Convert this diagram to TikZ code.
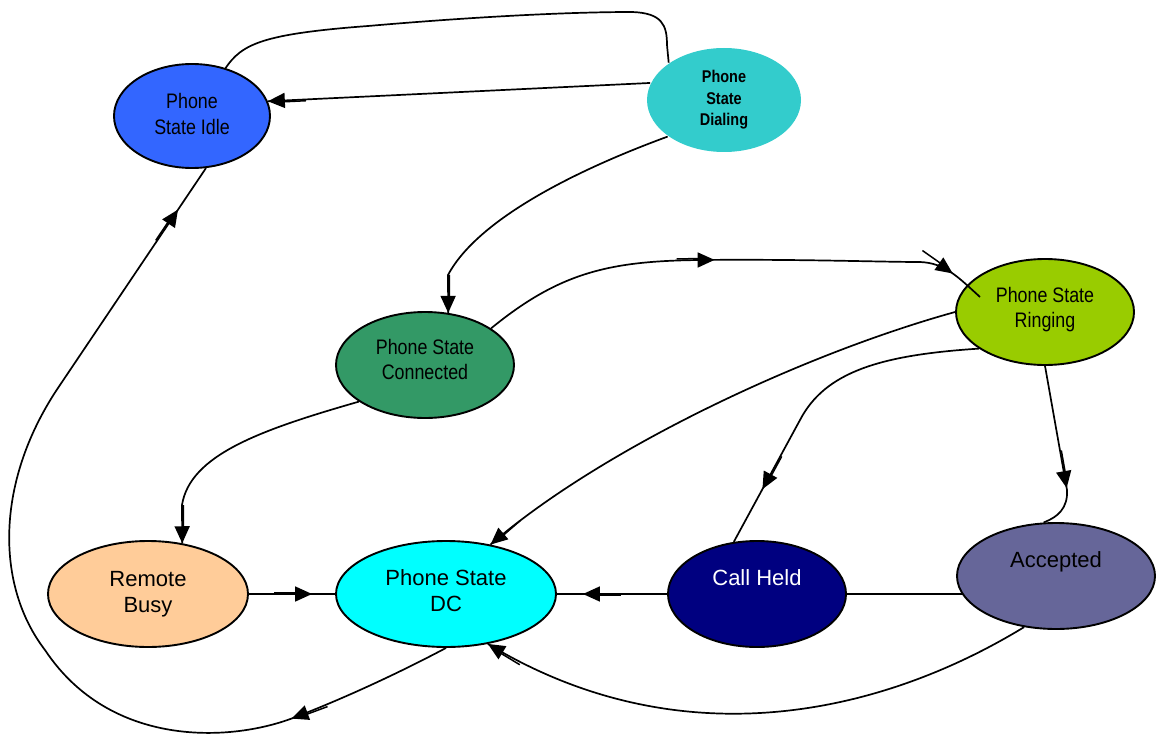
\documentclass[tikz,border=0pt]{standalone}
\usepackage{fontspec}
\setmainfont{Liberation Sans}
\newfontfamily\narrowfont[FakeStretch=0.85]{Liberation Sans}
\usetikzlibrary{shapes.geometric,arrows.meta,decorations.markings,backgrounds,calc}

\definecolor{idleblue}{HTML}{3366FF}
\definecolor{dialteal}{HTML}{33CCCC}
\definecolor{conngreen}{HTML}{339966}
\definecolor{ringlime}{HTML}{99CC00}
\definecolor{busypeach}{HTML}{FFCC99}
\definecolor{dccyan}{HTML}{00FFFF}
\definecolor{heldnavy}{HTML}{000080}
\definecolor{acceptslate}{HTML}{666699}

% arrowhead placed along a transition, with its short reinforcing stroke behind it
\newcommand\flowtip{%
  \arrow{Triangle[length=17pt,width=15pt]}%
  \draw[line width=1.5pt] (-38pt,1.3pt) -- (-10pt,1.3pt);%
}

\tikzset{
  statenode/.style={ellipse, draw=black, line width=1.9pt, inner sep=0pt, align=center,
    text=black, font=\fontsize{22pt}{26pt}\selectfont},
  narrowtext/.style={font=\narrowfont\fontsize{21pt}{25.5pt}\selectfont},
  link/.style={draw=black, line width=1.7pt},
  tipat/.style={postaction={decorate, decoration={markings, mark=at position #1 with {\flowtip}}}},
}

\begin{document}
\begin{tikzpicture}[x=1pt, y=-1pt]
\useasboundingbox (0,0) rectangle (1156,738);

% states
\node[statenode, narrowtext, fill=idleblue, minimum width=156pt, minimum height=104pt,
  text depth=4pt] (idle) at (192,116) {Phone\\State Idle};
\node[statenode, draw=none, fill=dialteal, minimum width=154pt, minimum height=104pt,
  font=\narrowfont\bfseries\fontsize{17pt}{21.5pt}\selectfont]
  (dialing) at (724,100) {Phone\\State\\Dialing};
\node[statenode, narrowtext, fill=conngreen, minimum width=178pt, minimum height=106pt,
  text depth=11pt] (connected) at (425,365) {Phone State\\Connected};
\node[statenode, narrowtext, fill=ringlime, minimum width=178pt, minimum height=106pt,
  text depth=9.5pt] (ringing) at (1045,312) {Phone State\\Ringing};
\node[statenode, fill=busypeach, minimum width=200pt, minimum height=106pt]
  (busy) at (148,594) {Remote\\Busy};
\node[statenode, fill=dccyan, minimum width=220pt, minimum height=106pt,
  text depth=6pt] (dc) at (446,594) {Phone State\\DC};
\node[statenode, fill=heldnavy, text=white, minimum width=178pt, minimum height=106pt]
  (held) at (757,594) {Call Held\\[6pt]\mbox{}};
\node[statenode, fill=acceptslate, minimum width=198pt, minimum height=106pt]
  (accepted) at (1056,576) {Accepted\\[6pt]\mbox{}};

% transitions
\draw[link] (idle.55) .. controls (242,44) and (262,34) .. (368,26)
  .. controls (460,18) and (560,12) .. (632,12)
  .. controls (662,13) and (667,25) .. (667,45) -- (dialing.146);

\draw[link, tipat=1] (dialing.167) -- (idle.11);

\draw[link, tipat=1] (dialing.213) .. controls (590,165) and (480,215) .. (448,275)
  -- (connected.66);

\draw[link, tipat=240pt, tipat=-36pt] (connected.29) .. controls (560,272) and (610,261) .. (700,260)
  .. controls (800,259) and (880,262) .. (920,262)
  .. controls (945,263) and (958,277) .. ($(ringing.center)+(-65,-15)$);

\draw[link, tipat=1] (connected.209) .. controls (260,430) and (190,455) .. (182,505)
  -- (busy.56);

\draw[link, tipat=-23pt] (busy.east) -- (dc.west);

\draw[link, tipat=1] (ringing.west) .. controls (800,355) and (600,450) .. (dc.48);

\draw[link, tipat=-60pt] (ringing.209) .. controls (880,355) and (825,372) .. (800,420)
  -- (held.114);

\draw[link, tipat=124pt] (ringing.south) -- (1067,490)
  .. controls (1068,508) and (1058,517) .. (accepted.103);

\begin{scope}[on background layer]
  \draw[link] (held.east -| accepted.center) -- (held.east);
\end{scope}

\draw[link, tipat=-26pt] (held.west) -- (dc.east);

\draw[link, tipat=1] (accepted.238) .. controls (880,715) and (680,760) .. (dc.-50);

\draw[link, tipat=170pt, tipat=-50pt] (dc.south) .. controls (395,675) and (340,700) .. (293,718)
  .. controls (230,742) and (110,748) .. (45,650)
  .. controls (-5,585) and (-5,480) .. (60,385) -- (idle.-75);

\end{tikzpicture}
\end{document}
